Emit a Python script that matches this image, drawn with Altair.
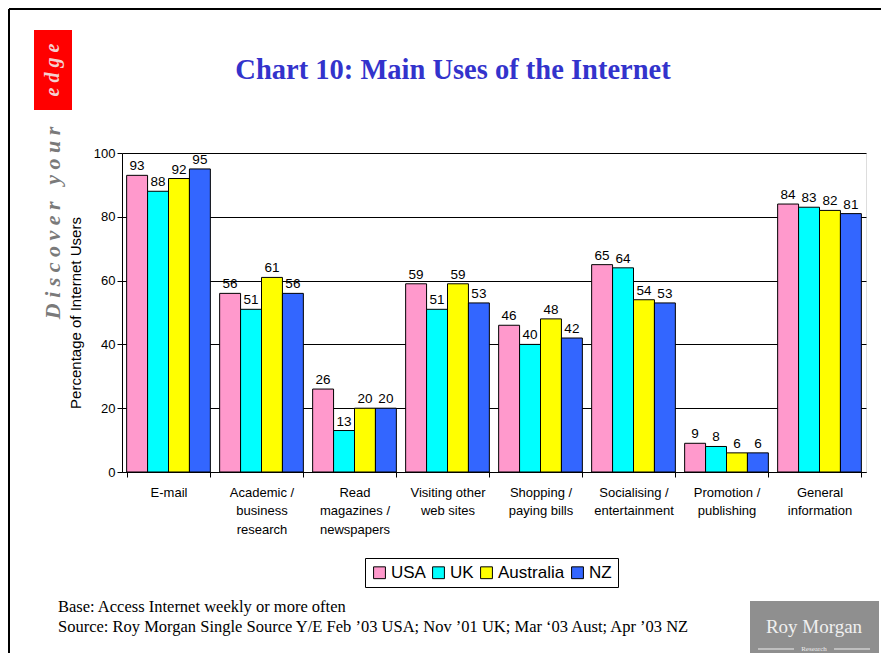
import altair as alt
import pandas as pd

categories = ["E-mail", "Academic /|business|research", "Read|magazines /|newspapers",
              "Visiting other|web sites", "Shopping /|paying bills", "Socialising /|entertainment",
              "Promotion /|publishing", "General|information"]
countries = ["USA", "UK", "Australia", "NZ"]
usa = [93, 56, 26, 59, 46, 65, 9, 84]
uk = [88, 51, 13, 51, 40, 64, 8, 83]
australia = [92, 61, 20, 59, 48, 54, 6, 82]
nz = [95, 56, 20, 53, 42, 53, 6, 81]
colors = ["#FF99CC", "#00FFFF", "#FFFF00", "#3366FF"]

rows = []
for c, vals in zip(countries, [usa, uk, australia, nz]):
    for cat, v in zip(categories, vals):
        rows.append({"category": cat, "country": c, "value": v})
df = pd.DataFrame(rows)

one = pd.DataFrame({"a": [0]})
W, H = 744, 319

xenc = alt.X("category:N", sort=categories, title=None,
             scale=alt.Scale(paddingInner=0.1, paddingOuter=0.05),
             axis=alt.Axis(labelExpr="split(datum.label, '|')", labelAngle=0,
                           labelFont="Liberation Sans", labelFontSize=13, labelColor="black",
                           labelLineHeight=18.5, labelPadding=9, labelBaseline="top",
                           tickBand="extent", tickColor="black", tickSize=5,
                           domainColor="black", grid=False))

bars = alt.Chart(df).mark_bar(stroke="black", strokeWidth=1).encode(
    x=xenc,
    xOffset=alt.XOffset("country:N", sort=countries),
    y=alt.Y("value:Q", scale=alt.Scale(domain=[0, 100]),
            title="Percentage of Internet Users",
            axis=alt.Axis(values=[0, 20, 40, 60, 80, 100], grid=True, gridColor="black",
                          gridOpacity=1, domainColor="black", tickColor="black", tickSize=5,
                          labelFont="Liberation Sans", labelFontSize=13, labelColor="black",
                          titleFont="Liberation Sans", titleFontSize=15, titleFontWeight="normal",
                          titleColor="black", titlePadding=10)),
    color=alt.Color("country:N", sort=countries,
                    scale=alt.Scale(domain=countries, range=colors),
                    legend=alt.Legend(title=None, orient="none", legendX=243, legendY=405,
                                      direction="horizontal", symbolType="square",
                                      symbolSize=140, symbolStrokeColor="black",
                                      symbolStrokeWidth=1, symbolOpacity=1,
                                      labelFont="Liberation Sans", labelFontSize=17,
                                      labelColor="black", strokeColor="black", padding=6,
                                      columnPadding=4, labelOffset=3)),
)

labels = alt.Chart(df).mark_text(dy=-9, font="Liberation Sans", fontSize=13.5, color="black").encode(
    x=alt.X("category:N", sort=categories),
    xOffset=alt.XOffset("country:N", sort=countries),
    y="value:Q",
    text="value:Q",
)

def txt(s, x, y, **kw):
    return alt.Chart(one).mark_text(**kw).encode(x=alt.value(x), y=alt.value(y), text=alt.value(s))

def rect(x, x2, y, y2, color):
    return alt.Chart(one).mark_rect(color=color).encode(
        x=alt.value(x), x2=alt.value(x2), y=alt.value(y), y2=alt.value(y2))

def rule(x, x2, y, y2, color, w):
    return alt.Chart(one).mark_rule(color=color, strokeWidth=w).encode(
        x=alt.value(x), x2=alt.value(x2), y=alt.value(y), y2=alt.value(y2))

NB = "\u00a0"
title = txt("Chart 10: Main Uses of the Internet", 331, -83, font="Liberation Serif",
            fontSize=28.5, fontWeight="bold", color="#3333CC", align="center", baseline="middle")

red = rect(-88, -50, -123, -43, "#FF0000")
edge = txt(NB.join("edge"), -69, -83, font="Liberation Serif", fontSize=20, fontStyle="italic",
           fontWeight="bold", color="#F4D0D0", angle=270, align="center", baseline="middle")
disc = txt(NB.join("Discover") + NB * 3 + NB.join("your"), -69, 70, font="Liberation Serif",
           fontSize=22, fontStyle="italic", fontWeight="bold", color="#7A7A7A", angle=270,
           align="center", baseline="middle")

foot1 = txt("Base: Access Internet weekly or more often", -64, 454, font="Liberation Serif",
            fontSize=16.5, color="black", align="left", baseline="middle")
foot2 = txt("Source: Roy Morgan Single Source Y/E Feb \u201903 USA; Nov \u201901 UK; Mar \u201803 Aust; Apr \u201903 NZ",
            -64, 474, font="Liberation Serif", fontSize=16.5, color="black", align="left",
            baseline="middle")

logo = rect(628, 757, 448, 501, "#8F8F8F")
logo_t = txt("Roy Morgan", 692, 474, font="Liberation Serif", fontSize=19, color="#F0F0F0",
             align="center", baseline="middle")
logo_r = txt("Research", 692, 496, font="Liberation Serif", fontSize=7, color="#EEEEEE",
             align="center", baseline="middle")
logo_l1 = rule(636, 672, 496, 496, "#EEEEEE", 1)
logo_l2 = rule(712, 748, 496, 496, "#EEEEEE", 1)

border_left = rule(-113, -113, -144, 500, "black", 2)
border_top = rule(-113, 759, -144, -144, "black", 2)

chart = alt.layer(bars, labels, title, red, edge, disc, foot1, foot2,
                  logo, logo_t, logo_r, logo_l1, logo_l2, border_left, border_top).properties(
    width=W, height=H, autosize="none",
    padding={"left": 114, "top": 145, "right": 15, "bottom": 181},
).configure_view(stroke="#999999", strokeWidth=1).configure(background="white")

chart.save("out.html", embed_options={"renderer": "svg", "actions": False})
